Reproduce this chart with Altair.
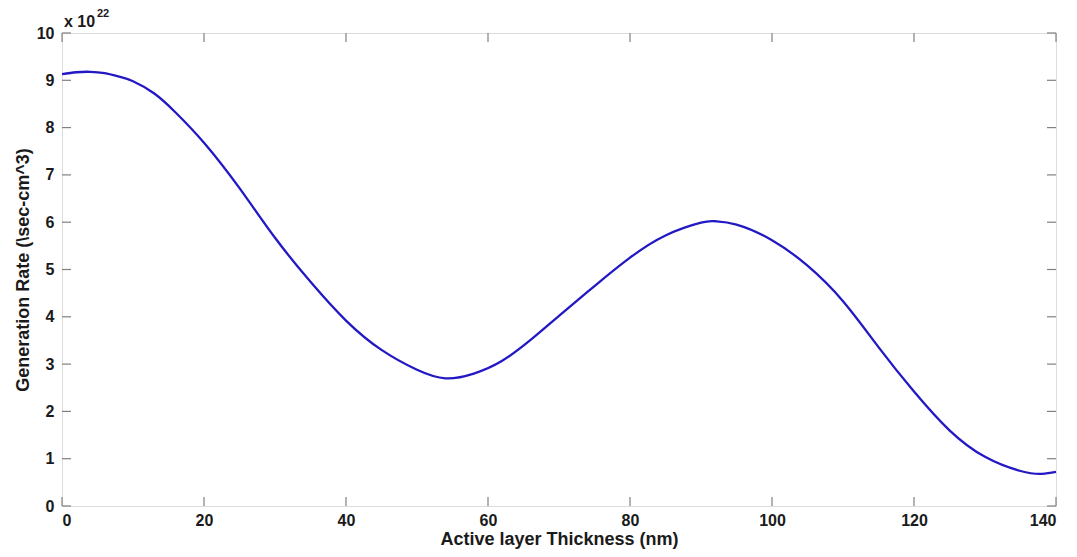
import altair as alt
import pandas as pd

# Generation rate profile across the active layer (units of 1e22 /sec-cm^3)
thickness_nm = [0, 2, 4, 6, 8, 10, 13, 16, 20, 25, 30, 35, 40, 45, 50, 54,
                58, 62, 66, 70, 75, 80, 85, 90, 92, 95, 100, 105, 110, 115,
                120, 125, 130, 135, 138, 140]
gen_rate = [9.13, 9.17, 9.18, 9.15, 9.08, 8.98, 8.72, 8.32, 7.68, 6.72, 5.67,
            4.74, 3.92, 3.30, 2.88, 2.70, 2.80, 3.07, 3.51, 4.02, 4.65, 5.25,
            5.72, 5.99, 6.02, 5.95, 5.62, 5.08, 4.33, 3.36, 2.42, 1.60, 1.04,
            0.74, 0.68, 0.72]

x_ticks = [0, 20, 40, 60, 80, 100, 120, 140]
y_ticks = [0, 1, 2, 3, 4, 5, 6, 7, 8, 9, 10]

W, H = 994, 473
FONT = "Liberation Sans"
FRAME = "#808080"
TICK_LEN = 9

curve = pd.DataFrame({"t": thickness_nm, "g": gen_rate})
xt = pd.DataFrame({"t": x_ticks})
yt = pd.DataFrame({"g": y_ticks})

x_scale = alt.Scale(domain=[0, 140], nice=False, zero=False)
y_scale = alt.Scale(domain=[0, 10], nice=False, zero=False)

x_axis = alt.Axis(values=x_ticks, ticks=False, grid=False, domain=False,
                  labelFont=FONT, labelFontSize=16, labelFontWeight="bold",
                  labelColor="#1a1a1a", labelPadding=6,
                  title="Active layer Thickness (nm)", titleFont=FONT,
                  titleFontSize=18, titleFontWeight="bold", titleColor="#1a1a1a",
                  titlePadding=2)
y_axis = alt.Axis(values=y_ticks, ticks=False, grid=False, domain=False,
                  labelFont=FONT, labelFontSize=16, labelFontWeight="bold",
                  labelColor="#1a1a1a", labelPadding=8,
                  title="Generation Rate (\\sec-cm^3)", titleFont=FONT,
                  titleFontSize=18, titleFontWeight="bold", titleColor="#1a1a1a",
                  titlePadding=4)

line = alt.Chart(curve).mark_line(color="#2218c4", strokeWidth=2.3,
                                  interpolate="natural").encode(
    x=alt.X("t:Q", scale=x_scale, axis=x_axis),
    y=alt.Y("g:Q", scale=y_scale, axis=y_axis),
)

# inward-pointing ticks on all four sides of the box
tick_style = dict(color=FRAME, strokeWidth=1.2)
bottom_ticks = alt.Chart(xt).mark_rule(**tick_style).encode(
    x=alt.X("t:Q", scale=x_scale), y=alt.value(H), y2=alt.value(H - TICK_LEN))
top_ticks = alt.Chart(xt).mark_rule(**tick_style).encode(
    x=alt.X("t:Q", scale=x_scale), y=alt.value(0), y2=alt.value(TICK_LEN))
left_ticks = alt.Chart(yt).mark_rule(**tick_style).encode(
    y=alt.Y("g:Q", scale=y_scale), x=alt.value(0), x2=alt.value(TICK_LEN))
right_ticks = alt.Chart(yt).mark_rule(**tick_style).encode(
    y=alt.Y("g:Q", scale=y_scale), x=alt.value(W), x2=alt.value(W - TICK_LEN))

# axis multiplier label above the y axis
mult = alt.Chart(pd.DataFrame({"s": ["x 10"]})).mark_text(
    font=FONT, fontSize=16, fontWeight="bold", color="#1a1a1a",
    align="left", baseline="alphabetic").encode(
    text="s:N", x=alt.value(2), y=alt.value(-6))
expo = alt.Chart(pd.DataFrame({"s": ["22"]})).mark_text(
    font=FONT, fontSize=11, fontWeight="bold", color="#1a1a1a",
    align="left", baseline="alphabetic").encode(
    text="s:N", x=alt.value(35), y=alt.value(-16))

chart = alt.layer(bottom_ticks, top_ticks, left_ticks, right_ticks, line,
                  mult, expo).properties(
    width=W, height=H,
    autosize=alt.AutoSizeParams(type="none"),
    padding={"left": 62, "top": 33, "right": 21, "bottom": 51},
).configure_view(
    stroke=FRAME, strokeWidth=1.5
).configure(background="white")

chart.save("out.html", embed_options={"renderer": "svg", "actions": False})
